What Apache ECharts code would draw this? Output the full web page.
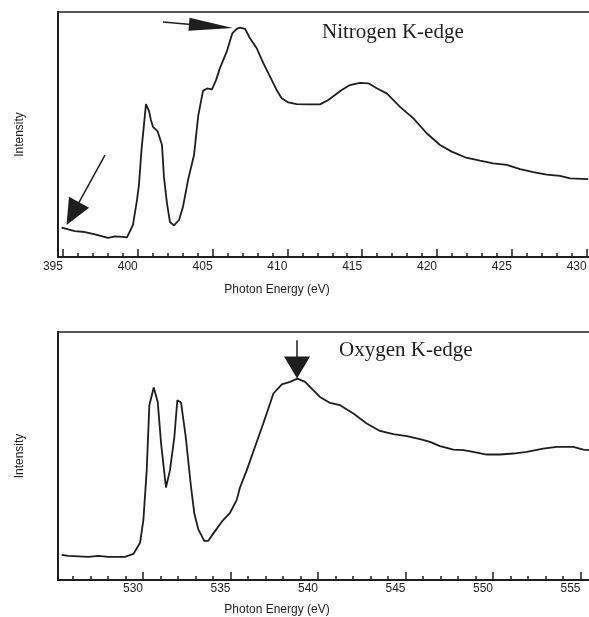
<!DOCTYPE html>
<html>
<head>
<meta charset="utf-8">
<script src="https://cdn.jsdelivr.net/npm/echarts@6/dist/echarts.min.js"></script>
<style>
  html, body { margin: 0; padding: 0; background: #fff; }
  #chart { width: 589px; height: 617px; }
</style>
</head>
<body>
<div id="chart"></div>
<script>
// Nitrogen K-edge spectrum (photon energy in eV, intensity in arbitrary units)
var energyN = [
    394.91, 395.80, 396.47, 397.14, 398.01, 398.48, 398.94, 399.28, 399.68, 399.95,
    400.08, 400.25, 400.55, 400.75, 400.88, 401.02, 401.32, 401.62, 401.75, 401.95,
    402.15, 402.42, 402.76, 403.02, 403.36, 403.76, 404.04, 404.36, 404.63, 404.96,
    405.23, 405.49, 405.94, 406.32, 406.61, 406.83, 407.17, 407.50, 407.95, 408.39,
    408.84, 409.28, 409.62, 410.06, 410.62, 411.40, 412.18, 412.73, 413.18, 413.63,
    414.18, 414.85, 415.41, 415.97, 416.64, 417.53, 418.42, 419.31, 420.20, 420.98,
    421.87, 422.87, 423.76, 424.66, 425.55, 426.44, 427.33, 428.22, 428.89, 430.11
];
var intensityN = [
    12.0, 10.6, 10.2, 9.2, 7.8, 8.4, 8.2, 8.0, 13.1, 23.3,
    29.4, 43.7, 62.4, 59.6, 55.9, 53.1, 51.4, 45.7, 32.7, 22.0,
    14.3, 12.9, 15.1, 20.4, 31.4, 41.6, 57.6, 67.8, 68.8, 68.4,
    72.2, 77.1, 83.7, 91.3, 93.1, 93.6, 93.1, 89.3, 85.2, 79.1,
    73.6, 68.2, 64.8, 63.1, 62.4, 62.3, 62.3, 64.1, 66.1, 68.2,
    70.2, 71.1, 70.9, 68.9, 66.8, 61.3, 56.6, 50.5, 45.7, 43.0,
    40.7, 39.3, 38.2, 37.6, 35.9, 34.6, 33.6, 33.1, 32.1, 31.8
];

// Oxygen K-edge spectrum
var energyO = [
    525.35, 525.73, 526.87, 527.45, 528.02, 528.97, 529.45, 529.83, 530.02, 530.21,
    530.36, 530.61, 530.84, 531.03, 531.31, 531.54, 531.79, 531.96, 532.17, 532.44,
    532.74, 532.93, 533.16, 533.50, 533.73, 534.02, 534.50, 534.97, 535.35, 535.54,
    535.93, 536.40, 536.87, 537.26, 537.45, 537.93, 538.40, 538.82, 539.26, 539.64,
    540.11, 540.69, 541.26, 542.02, 542.78, 543.54, 544.30, 545.07, 545.83, 546.40,
    546.97, 547.73, 548.30, 548.87, 549.64, 550.40, 551.16, 551.93, 552.87, 553.64,
    554.59, 555.16, 555.49
];
var intensityO = [
    10.1, 9.7, 9.3, 9.7, 9.3, 9.3, 10.5, 15.0, 24.2, 44.3,
    70.5, 77.6, 71.8, 55.1, 37.3, 44.3, 57.7, 72.5, 71.6, 57.7,
    37.6, 26.9, 20.4, 15.8, 15.8, 18.8, 23.5, 27.1, 32.2, 37.3,
    44.3, 53.7, 63.1, 71.2, 75.2, 78.9, 79.9, 81.2, 79.9, 77.2,
    73.8, 71.4, 70.5, 67.1, 63.1, 60.1, 58.8, 58.0, 56.8, 55.7,
    54.0, 52.6, 52.4, 51.7, 50.6, 50.6, 51.0, 51.7, 53.0, 53.7,
    53.7, 52.6, 52.4
];

// axis ranges
var rangeN = [394.67, 430.29];
var rangeO = [525.14, 555.6];

// annotation arrows: [tailE, tailI, headE, headI]
var arrowsN = [
    [397.81, 41.6, 395.66, 17.7],
    [401.68, 95.9, 404.89, 94.2]
];
var arrowsO = [
    [538.8, 96.7, 538.8, 85.7]
];

var titleN = 'Nitrogen K-edge';
var titleO = 'Oxygen K-edge';
var xName = 'Photon Energy (eV)';
var yName = 'Intensity';

function zip(xs, ys) {
    var out = [];
    for (var i = 0; i < xs.length; i++) {
        out.push([xs[i], ys[i]]);
    }
    return out;
}

function arrowLines(list, sizes) {
    return list.map(function (a, i) {
        return [
            { coord: [a[0], a[1]], symbol: 'none' },
            { coord: [a[2], a[3]], symbol: 'triangle', symbolSize: sizes[i] }
        ];
    });
}

var ink = '#1e1e1e';

function xAxisFor(grid, range, splitNumber, nameGap, labelMargin) {
    return {
        type: 'value',
        gridIndex: grid,
        min: range[0],
        max: range[1],
        splitNumber: splitNumber,
        name: xName,
        nameLocation: 'middle',
        nameGap: nameGap,
        nameTextStyle: {
            fontFamily: 'Liberation Sans',
            fontSize: 12,
            color: ink,
            padding: [0, 95, 0, 0]
        },
        axisLine: { lineStyle: { color: ink, width: 2 } },
        axisTick: { inside: true, length: 8, lineStyle: { color: ink, width: 1.5 } },
        minorTick: { show: true, splitNumber: 5, length: 4, lineStyle: { color: ink, width: 1.5 } },
        axisLabel: {
            margin: labelMargin,
            align: 'right',
            padding: [0, 0, 0, 0],
            fontFamily: 'Liberation Sans',
            fontSize: 12,
            color: ink,
            formatter: function (v) {
                return (Math.abs(v - Math.round(v)) < 1e-6 && Math.round(v) % 5 === 0) ? String(Math.round(v)) : '';
            }
        },
        splitLine: { show: false }
    };
}

function yAxisFor(grid) {
    return {
        type: 'value',
        gridIndex: grid,
        min: 0,
        max: 100,
        name: yName,
        nameLocation: 'middle',
        nameGap: 32,
        nameTextStyle: { fontFamily: 'Liberation Sans', fontSize: 12, color: ink },
        axisLine: { show: true, lineStyle: { color: ink, width: 2 } },
        axisTick: { show: false },
        axisLabel: { show: false },
        splitLine: { show: false }
    };
}

function spectrum(idx, data, arrows, sizes) {
    return {
        type: 'line',
        xAxisIndex: idx,
        yAxisIndex: idx,
        data: data,
        showSymbol: false,
        symbol: 'none',
        lineStyle: { color: ink, width: 1.8 },
        silent: true,
        markLine: {
            silent: true,
            animation: false,
            label: { show: false },
            lineStyle: { color: ink, width: 1.5, type: 'solid' },
            emphasis: { disabled: true },
            data: arrowLines(arrows, sizes)
        }
    };
}

var chart = echarts.init(document.getElementById('chart'), null, { renderer: 'canvas' });

var option = {
    animation: false,
    backgroundColor: '#fff',
    title: [
        {
            text: titleN,
            left: 322,
            top: 22,
            padding: 0,
            textStyle: { fontFamily: 'Liberation Serif', fontSize: 21, fontWeight: 'normal', color: ink }
        },
        {
            text: titleO,
            left: 339,
            top: 340,
            padding: 0,
            textStyle: { fontFamily: 'Liberation Serif', fontSize: 21, fontWeight: 'normal', color: ink }
        }
    ],
    grid: [
        { left: 58, top: 12, right: -2, height: 245, show: true, borderColor: ink, borderWidth: 1.5, outerBoundsMode: 'none', containLabel: false },
        { left: 58, top: 332, right: -2, height: 248, show: true, borderColor: ink, borderWidth: 1.5, outerBoundsMode: 'none', containLabel: false }
    ],
    xAxis: [
        xAxisFor(0, rangeN, 7, 27, 4),
        xAxisFor(1, rangeO, 6, 24, 3)
    ],
    yAxis: [yAxisFor(0), yAxisFor(1)],
    series: [
        spectrum(0, zip(energyN, intensityN), arrowsN, [[23, 26], [13, 44]]),
        spectrum(1, zip(energyO, intensityO), arrowsO, [[26, 22]])
    ]
};

chart.setOption(option);

window.onresize = function () {
    chart.resize();
};
</script>
</body>
</html>
